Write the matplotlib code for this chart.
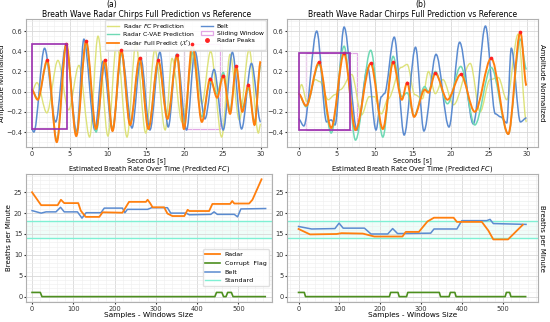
import matplotlib
matplotlib.use("Agg")
import matplotlib.pyplot as plt
from matplotlib.path import Path
from matplotlib.patches import PathPatch, Rectangle, Patch
from matplotlib.lines import Line2D
from matplotlib.ticker import MultipleLocator

# ---- wave data: turning points (seconds, amplitude) ----

# (a)
fc_t_a = [0, 0.7, 2.0, 3.45, 4.85, 6.2, 7.6, 8.7, 10.0, 11.15, 12.5, 13.65, 14.95, 16.15,
          17.5, 18.4, 19.7, 21.3, 22.3, 23.45, 24.9, 26.0, 27.2, 28.5, 29.7, 30]
fc_y_a = [0.0, 0.09, -0.21, 0.31, -0.18, 0.26, -0.45, 0.55, -0.44, 0.49, -0.45, 0.47, -0.41, 0.42,
          -0.38, 0.33, -0.30, 0.40, -0.12, 0.40, -0.45, 0.37, -0.28, 0.42, -0.41, -0.32]

full_t_a = [0, 0.8, 2.05, 3.3, 4.55, 5.85, 7.15, 8.45, 9.6, 10.6, 11.75, 12.9, 14.15, 15.3, 16.6,
            17.8, 19.05, 19.95, 21.05, 22.3, 23.4, 24.3, 25.1, 26.0, 26.8, 27.6, 28.4, 29.2, 30]
full_y_a = [0.02, -0.08, 0.31, -0.50, 0.47, -0.44, 0.50, -0.37, 0.31, -0.39, 0.41, -0.33, 0.33, -0.37, 0.31,
            -0.27, 0.36, -0.37, 0.47, -0.30, 0.13, -0.06, 0.16, -0.22, 0.25, -0.20, 0.07, -0.33, 0.30]
cvae_y_a = [0.02, -0.07, 0.29, -0.48, 0.45, -0.42, 0.48, -0.40, 0.30, -0.37, 0.38, -0.32, 0.31, -0.36, 0.30,
            -0.26, 0.34, -0.33, 0.39, -0.25, 0.10, -0.02, 0.19, -0.18, 0.22, -0.16, 0.03, -0.30, 0.26]

belt_t_a = [0, 0.3, 1.7, 3.15, 4.5, 5.9, 6.85, 8.3, 9.35, 10.6, 11.8, 13.15, 14.3, 15.5, 16.8,
            17.9, 19.0, 20.3, 21.4, 22.7, 23.9, 25.1, 26.3, 27.5, 28.8, 30]
belt_y_a = [-0.37, -0.40, 0.43, -0.30, 0.46, -0.40, 0.52, -0.38, 0.30, -0.38, 0.38, -0.36, 0.33, -0.38, 0.39,
            -0.35, 0.37, -0.38, 0.40, -0.27, 0.22, -0.38, 0.39, -0.37, 0.28, -0.30]

peak_t_a = [2.05, 4.55, 7.15, 9.6, 11.75, 14.15, 16.6, 19.05, 21.05, 23.4, 25.1, 26.8, 28.4]
peak_y_a = [0.31, 0.47, 0.50, 0.31, 0.41, 0.33, 0.31, 0.36, 0.47, 0.13, 0.16, 0.25, 0.07]

# (b)
fc_t_b = [0, 0.4, 1.1, 2.2, 2.8, 3.9, 4.8, 5.5, 7.0, 8.3, 9.3, 10.0, 10.9, 11.8, 13.5, 14.3, 15.3,
          16.3, 17.1, 18.0, 19.0, 20.4, 22.6, 23.9, 25.2, 26.3, 27.4, 28.9, 30]
fc_y_b = [0.0, 0.07, -0.10, 0.12, 0.10, -0.08, -0.03, 0.02, 0.17, -0.23, -0.05, -0.05, -0.22, -0.07, 0.24, 0.27, -0.03,
          -0.07, 0.20, -0.02, 0.12, -0.13, 0.28, -0.20, 0.12, 0.14, -0.08, 0.57, -0.30]

full_t_b = [0, 1.0, 2.7, 4.3, 6.0, 7.5, 9.5, 11.1, 12.45, 13.6, 14.3, 15.2, 16.6, 17.1, 18.0,
            19.6, 21.35, 23.2, 25.35, 27.6, 29.2, 30]
full_y_b = [-0.02, -0.14, 0.29, -0.36, 0.38, -0.38, 0.28, -0.37, 0.29, -0.08, 0.09, -0.25, 0.02, -0.01, 0.18,
            -0.08, 0.17, -0.20, 0.33, -0.42, 0.59, 0.06]
cvae_y_b = [-0.02, -0.15, 0.27, -0.41, 0.45, -0.48, 0.41, -0.45, 0.35, -0.05, -0.01, -0.24, 0.05, 0.0, 0.20,
            -0.12, 0.25, -0.33, 0.24, -0.42, 0.52, 0.22]

belt_t_b = [0, 0.7, 2.4, 3.7, 4.3, 4.8, 6.0, 7.7, 9.1, 10.2, 10.9, 11.3, 12.6, 13.9, 15.4, 16.5,
            18.1, 19.8, 21.2, 23.0, 24.6, 25.9, 26.6, 27.4, 28.0, 29.2, 30]
belt_y_b = [-0.27, -0.34, 0.60, -0.30, -0.28, -0.33, 0.64, -0.38, 0.24, -0.38, -0.05, -0.02, 0.54, -0.43, 0.44, -0.39,
            0.37, -0.35, 0.49, -0.32, 0.65, -0.22, -0.25, -0.31, 0.43, -0.30, -0.26]

peak_t_b = [2.7, 6.0, 9.5, 12.45, 14.3, 18.0, 21.35, 25.35, 29.2]
peak_y_b = [0.29, 0.38, 0.28, 0.29, 0.09, 0.18, 0.17, 0.33, 0.59]

# sliding windows (start, end) in seconds, box (low, high) in amplitude
win_a = [(0, 4.7), (20.0, 24.7)]
win_box_a = (-0.37, 0.47)
win_b = [(0, 6.8), (1.0, 7.7)]
win_box_b = (-0.38, 0.38)

# ---- breath rate data (sample index, breaths per minute) ----
radar_x_a = [0, 22, 62, 70, 78, 112, 118, 130, 163, 171, 219, 227, 235, 276, 280, 286, 292, 320, 328, 340,
             369, 377, 381, 429, 437, 480, 485, 490, 526, 534, 556]
radar_y_a = [25.0, 21.9, 21.9, 23.2, 22.4, 22.4, 20.6, 19.1, 19.1, 20.2, 20.1, 21.4, 22.7, 22.7, 23.2, 22.4, 21.4, 21.4,
             19.9, 19.3, 19.3, 20.8, 20.5, 20.5, 22.2, 22.2, 22.9, 22.3, 22.3, 23.2, 28.1]
belt_x_a = [0, 22, 34, 58, 69, 78, 110, 121, 131, 167, 175, 219, 225, 231, 280, 290, 328, 336, 373, 381,
            433, 441, 449, 490, 498, 506, 566]
belt_r_a = [20.6, 20.0, 20.3, 20.3, 21.4, 20.3, 20.3, 18.8, 20.1, 20.1, 21.2, 21.2, 20.1, 20.9, 20.9, 21.3, 21.3,
            20.0, 20.0, 19.6, 19.7, 20.3, 19.7, 19.7, 19.1, 21.0, 21.1]
flag_x_a = [0, 20, 24, 443, 447, 460, 464, 470, 474, 483, 487, 565]
flag_y_a = [1, 1, 0, 0, 1, 1, 0, 0, 1, 1, 0, 0]

radar_x_b = [0, 28, 93, 105, 157, 169, 185, 254, 262, 294, 315, 331, 379, 387, 448, 464, 476, 512, 548]
radar_y_b = [16.2, 14.9, 15.0, 15.2, 15.1, 14.8, 14.4, 14.4, 15.5, 15.5, 18.0, 18.9, 18.9, 17.9, 17.9, 15.8, 13.7,
             13.7, 17.2]
belt_x_b = [0, 32, 89, 99, 109, 161, 177, 218, 230, 242, 323, 331, 387, 399, 460, 468, 476, 556]
belt_r_b = [16.8, 16.2, 16.3, 17.6, 16.4, 16.4, 15.0, 15.0, 16.3, 15.1, 15.2, 16.2, 16.2, 18.2, 18.2, 18.5, 17.5, 17.3]
flag_x_b = [0, 14, 17, 222, 225, 243, 246, 264, 267, 344, 347, 368, 371, 382, 385, 505, 508, 516, 519, 555]
flag_y_b = [1, 1, 0, 0, 1, 1, 0, 0, 1, 1, 0, 0, 1, 1, 0, 0, 1, 1, 0, 0]

std_band = (14, 18)

C_FC = "#dde27a"
C_CVAE = "#6fd9b4"
C_FULL = "#ff7f0e"
C_BELT = "#5b8bd0"
C_WIN = "#e2a6e6"
C_WIN0 = "#9b2fae"
C_PEAK = "#ff2222"
C_FLAG = "#4d8f1f"
C_STD = "#7ff0d4"

plt.rcParams["font.family"] = "DejaVu Sans"
plt.rcParams["font.size"] = 5


def smooth(ax, t, y, color, lw, z):
    # smooth curve through the turning points, drawn as a bezier path in data coords
    verts = [(t[0], y[0])]
    codes = [Path.MOVETO]
    for i in range(1, len(t)):
        d = (t[i] - t[i - 1]) / 3.0
        verts += [(t[i - 1] + d, y[i - 1]), (t[i] - d, y[i]), (t[i], y[i])]
        codes += [Path.CURVE4] * 3
    ax.add_patch(PathPatch(Path(verts, codes), fill=False, edgecolor=color, lw=lw, zorder=z))


def style(ax):
    ax.set_facecolor("white")
    ax.grid(True, which="major", color="#d8d8d8", lw=0.6)
    ax.grid(True, which="minor", color="#eeeeee", lw=0.4)
    for s in ax.spines.values():
        s.set_color("#b0b0b0")
        s.set_linewidth(0.8)
    ax.tick_params(labelsize=4.8, length=1.5, pad=1.0, colors="#333333")
    ax.tick_params(which="minor", length=0)


fig = plt.figure(figsize=(5.5, 3.22), dpi=100)
ax1 = fig.add_axes([0.047, 0.543, 0.438, 0.398])
ax2 = fig.add_axes([0.522, 0.543, 0.456, 0.398])
ax3 = fig.add_axes([0.047, 0.062, 0.448, 0.398])
ax4 = fig.add_axes([0.522, 0.062, 0.456, 0.398])

waves = [
    (ax1, fc_t_a, fc_y_a, full_t_a, full_y_a, cvae_y_a, belt_t_a, belt_y_a, peak_t_a, peak_y_a,
     win_a, win_box_a, (-0.75, 30.8)),
    (ax2, fc_t_b, fc_y_b, full_t_b, full_y_b, cvae_y_b, belt_t_b, belt_y_b, peak_t_b, peak_y_b,
     win_b, win_box_b, (-1.5, 31.5)),
]
for ax, ft, fy, pt, py, cy, bt, by, kt, ky, wins, box, xl in waves:
    style(ax)
    smooth(ax, ft, fy, C_FC, 1.0, 2)
    smooth(ax, bt, by, C_BELT, 1.1, 3)
    smooth(ax, pt, cy, C_CVAE, 1.1, 4)
    smooth(ax, pt, py, C_FULL, 1.4, 5)
    ax.scatter(kt, ky, s=7, color=C_PEAK, zorder=6, linewidths=0)
    ax.add_patch(Rectangle((wins[1][0], box[0]), wins[1][1] - wins[1][0], box[1] - box[0],
                           fill=False, edgecolor=C_WIN, lw=0.9, zorder=1))
    ax.add_patch(Rectangle((wins[0][0], box[0]), wins[0][1] - wins[0][0], box[1] - box[0],
                           fill=False, edgecolor=C_WIN0, lw=1.2, zorder=7))
    ax.set_xlim(*xl)
    ax.set_ylim(-0.55, 0.72)
    ax.set_xticks([0, 5, 10, 15, 20, 25, 30])
    ax.set_yticks([-0.4, -0.2, 0.0, 0.2, 0.4, 0.6])
    ax.xaxis.set_minor_locator(MultipleLocator(1))
    ax.yaxis.set_minor_locator(MultipleLocator(0.05))
    ax.set_title("Breath Wave Radar Chirps Full Prediction vs Reference", fontsize=5.5, pad=1.5)
    ax.set_xlabel("Seconds [s]", fontsize=4.8, labelpad=0.3)

ax1.set_ylabel("Amplitude Normalized", fontsize=5, labelpad=1)
ax2.set_ylabel("Amplitude Normalized", fontsize=5, labelpad=5, rotation=270)
ax2.yaxis.set_label_position("right")

handles = [
    Line2D([], [], color=C_FC, lw=1.0),
    Line2D([], [], color=C_CVAE, lw=1.0),
    Line2D([], [], color=C_FULL, lw=1.3),
    Line2D([], [], color=C_BELT, lw=1.0),
    Patch(facecolor="none", edgecolor=C_WIN, lw=0.9),
    Line2D([], [], color=C_PEAK, lw=0, marker="o", markersize=2.5),
]
labels = ["Radar $FC$ Prediction", "Radar C-VAE Prediction", r"Radar Full Predict ($\mathcal{X}^r$)",
          "Belt", "Sliding Window", "Radar Peaks"]
ax1.legend(handles, labels, ncol=2, loc="upper right", fontsize=4.4, frameon=True, framealpha=0.9,
           edgecolor="#dddddd", borderpad=0.3, labelspacing=0.25, handlelength=2.0,
           columnspacing=1.2, handletextpad=0.6, borderaxespad=0.2)

rates = [
    (ax3, radar_x_a, radar_y_a, belt_x_a, belt_r_a, flag_x_a, flag_y_a, (-15, 582)),
    (ax4, radar_x_b, radar_y_b, belt_x_b, belt_r_b, flag_x_b, flag_y_b, (-28, 585)),
]
for ax, rx, ry, bx, br, fx, fy, xl in rates:
    style(ax)
    ax.axhspan(std_band[0], std_band[1], color=C_STD, alpha=0.12, lw=0)
    ax.axhline(std_band[0], color=C_STD, lw=1.0, label="Standard")
    ax.axhline(std_band[1], color=C_STD, lw=1.0)
    ax.plot(rx, ry, color=C_FULL, lw=1.3, label="Radar", zorder=4)
    ax.plot(fx, fy, color=C_FLAG, lw=1.2, label="Corrupt  Flag", zorder=3)
    ax.plot(bx, br, color=C_BELT, lw=1.1, label="Belt", zorder=3)
    ax.set_xlim(*xl)
    ax.set_ylim(-1.3, 29.4)
    ax.set_xticks([0, 100, 200, 300, 400, 500])
    ax.set_yticks([0, 5, 10, 15, 20, 25])
    ax.xaxis.set_minor_locator(MultipleLocator(20))
    ax.yaxis.set_minor_locator(MultipleLocator(1))
    ax.set_title("Estimated Breath Rate Over Time (Predicted $FC$)", fontsize=4.8, pad=1.5)
    ax.set_xlabel("Samples - Windows Size", fontsize=5.3, labelpad=0.3)

ax3.set_ylabel("Breaths per Minute", fontsize=5, labelpad=1)
ax4.set_ylabel("Breaths per Minute", fontsize=5, labelpad=5, rotation=270)
ax4.yaxis.set_label_position("right")

h, l = ax3.get_legend_handles_labels()
order = [l.index(n) for n in ["Radar", "Corrupt  Flag", "Belt", "Standard"]]
ax3.legend([h[i] for i in order], [l[i] for i in order], loc="lower right", bbox_to_anchor=(1.0, 0.1),
           fontsize=4.6, frameon=True, framealpha=0.9, edgecolor="#dddddd", borderpad=0.4,
           labelspacing=0.5, handlelength=2.2)

fig.text(0.204, 0.985, "(a)", ha="center", va="center", fontsize=5.5)
fig.text(0.765, 0.985, "(b)", ha="center", va="center", fontsize=5.5)

fig.savefig("out.png", dpi=100)
